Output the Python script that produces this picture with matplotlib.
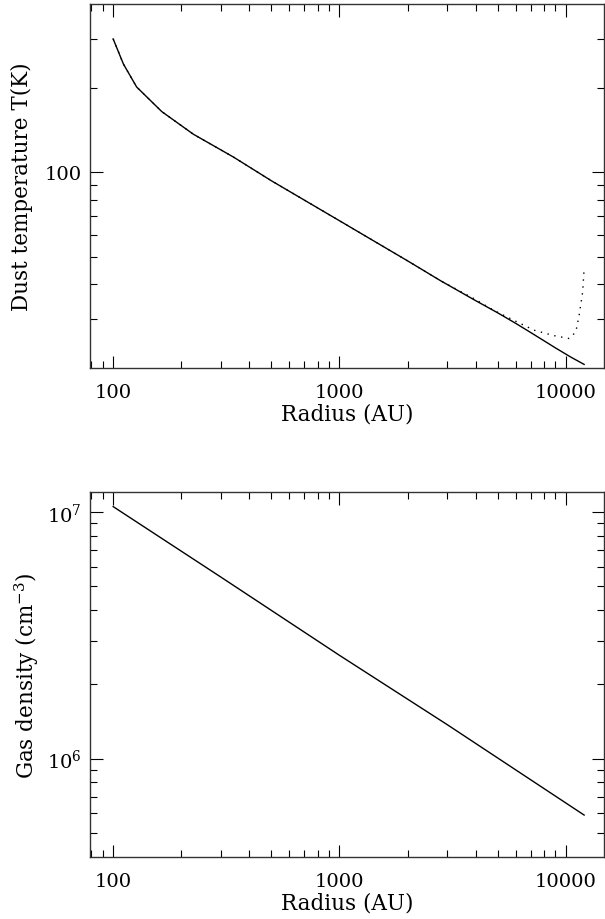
import numpy as np
import matplotlib
matplotlib.use('Agg')
import matplotlib.pyplot as plt
from matplotlib.ticker import FixedLocator, FixedFormatter, LogLocator, NullFormatter

plt.rcParams['font.family'] = 'DejaVu Serif'
plt.rcParams['mathtext.fontset'] = 'dejavuserif'

# dust temperature profile (solid) and the dotted variant
r_temp = [100, 111, 127, 164, 226, 340, 500, 1000, 2000, 2800, 4000,
          5000, 6000, 7200, 9000, 10500, 12050]
t_solid = [300, 244, 202, 165, 137, 113.5, 93.4, 67.2, 48.3, 41.0, 34.8,
           31.5, 28.9, 26.4, 23.6, 21.9, 20.6]
r_dot = [100, 111, 127, 164, 226, 340, 500, 1000, 2000, 2800, 3926,
         4820, 5900, 7240, 8870, 10350, 11070, 11450, 11870, 12050]
t_dot = [300, 244, 202, 165, 137, 113.5, 93.4, 67.2, 48.3, 41.0, 35.4,
         32.1, 29.6, 27.3, 26.1, 25.5, 26.9, 30.8, 37.4, 45.3]

# gas density profile
r_dens = [100, 300, 1000, 3000, 12050]
n_gas = [1.05e7, 5.43e6, 2.62e6, 1.37e6, 5.9e5]

fig = plt.figure(figsize=(6.05, 9.2), dpi=100)
ax1 = fig.add_axes([90/605, 1-369/920, 514/605, 364/920])
ax2 = fig.add_axes([90/605, 1-857.7/920, 514/605, 364.4/920])

fs_tick = 14
fs_lab = 15.5

def style(ax):
    ax.set_xscale('log')
    ax.set_yscale('log')
    ax.set_xlim(79, 14750)
    ax.tick_params(which='both', direction='in', top=True, right=True,
                   width=0.8, labelsize=fs_tick, pad=11)
    ax.tick_params(which='major', length=9)
    ax.tick_params(which='minor', length=5)
    ax.xaxis.set_major_locator(FixedLocator([100, 1000, 10000]))
    ax.xaxis.set_major_formatter(FixedFormatter(['100', '1000', '10000']))
    ax.xaxis.set_minor_locator(LogLocator(base=10, subs=np.arange(2, 10)))
    ax.xaxis.set_minor_formatter(NullFormatter())
    for s in ax.spines.values():
        s.set_linewidth(1.0)
        s.set_color('#333333')
    ax.set_xlabel('Radius (AU)', fontsize=fs_lab, labelpad=1)

style(ax1)
ax1.plot(r_dot, t_dot, color='black', lw=1.0, linestyle=(0, (1, 4)))
ax1.plot(r_temp, t_solid, color='black', lw=1.0)
ax1.set_ylim(20, 400)
ax1.yaxis.set_major_locator(FixedLocator([100]))
ax1.yaxis.set_major_formatter(FixedFormatter(['100']))
ax1.yaxis.set_minor_locator(FixedLocator([30, 40, 50, 60, 70, 80, 90, 200, 300]))
ax1.yaxis.set_minor_formatter(NullFormatter())
ax1.tick_params(axis='y', pad=6)
ax1.set_ylabel('Dust temperature T(K)', fontsize=fs_lab, labelpad=8)

style(ax2)
ax2.plot(r_dens, n_gas, color='black', lw=1.0)
ax2.set_ylim(4e5, 1.2e7)
ax2.yaxis.set_major_locator(FixedLocator([1e6, 1e7]))
ax2.yaxis.set_major_formatter(FixedFormatter(['10$^6$', '10$^7$']))
ax2.yaxis.set_minor_locator(FixedLocator([5e5, 6e5, 7e5, 8e5, 9e5,
                                          2e6, 3e6, 4e6, 5e6, 6e6, 7e6, 8e6, 9e6]))
ax2.yaxis.set_minor_formatter(NullFormatter())
ax2.tick_params(axis='y', pad=6)
ax2.set_ylabel('Gas density (cm$^{-3}$)', fontsize=fs_lab, labelpad=4)

fig.savefig('out.png', dpi=100)
